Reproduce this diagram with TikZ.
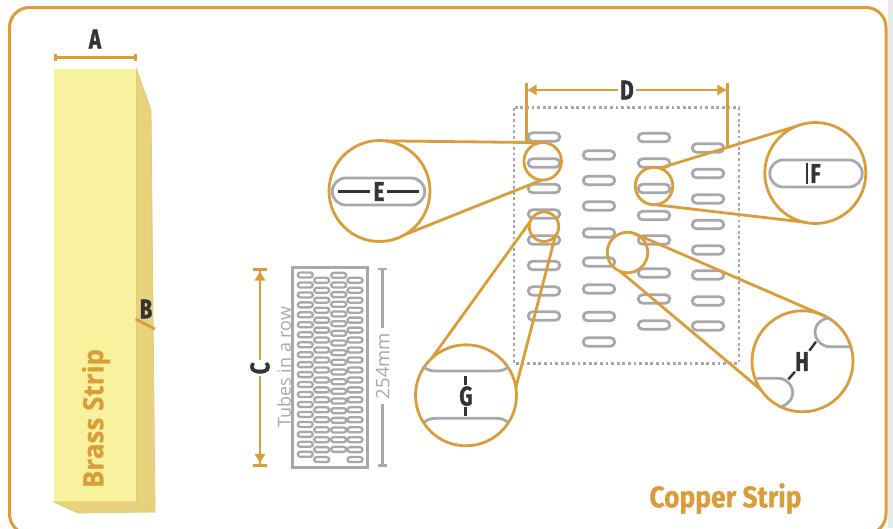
\documentclass[tikz,border=0pt]{standalone}
\usepackage{fontspec}
\usetikzlibrary{shapes.misc,arrows.meta}
\newfontfamily\dimfont[FakeStretch=0.76,FakeBold=1.2]{Fira Sans}
\newfontfamily\titlefont[FakeStretch=0.88,FakeBold=0.6]{Fira Sans}
\newfontfamily\stripfont[FakeStretch=0.93,FakeBold=0.4]{Open Sans}
\newfontfamily\brassfont{Open Sans}
\definecolor{strand}{HTML}{DB9C3A}
\definecolor{slotgray}{HTML}{A8A8AC}
\definecolor{inkdark}{HTML}{333338}
\definecolor{brassfront}{HTML}{F8F29E}
\definecolor{brassside}{HTML}{E8D27C}
\definecolor{brassseam}{HTML}{E0CB78}
\tikzset{
  slot/.style={rounded rectangle,draw=slotgray,line width=2.8pt,minimum width=31.5pt,minimum height=8.5pt,inner sep=0pt,outer sep=0pt},
  tinyslot/.style={rounded rectangle,draw=slotgray,line width=2.3pt,minimum width=15pt,minimum height=5pt,inner sep=0pt,outer sep=0pt},
  bigslot/.style={rounded rectangle,draw=slotgray,line width=2.8pt,minimum width=92.5pt,minimum height=27pt,inner sep=0pt,outer sep=0pt},
  spot/.style={circle,draw=strand,line width=2.8pt,inner sep=0pt,outer sep=0pt},
  lens/.style={circle,draw=strand,line width=2.8pt,fill=white,minimum size=101pt,inner sep=0pt,outer sep=0pt},
  letter/.style={font=\dimfont\bfseries\fontsize{27}{27}\selectfont,text=inkdark,inner sep=1pt},
  wire/.style={draw=strand,line width=2.8pt},
  inkmark/.style={draw=inkdark,line width=2.4pt},
  greyline/.style={draw=slotgray,line width=2.6pt}
}
\begin{document}
\begin{tikzpicture}[x=1pt,y=-1pt]
\useasboundingbox (0,0) rectangle (893,528);

% to draw outer frame
\fill [black!9] (888,0) rectangle (893,528);
\draw [strand,line width=3pt,rounded corners=20pt] (9.5,7.5) rectangle (886,534);

% to draw brass strip
\fill [brassfront] (54,69) rectangle (136.5,502);
\filldraw [fill=brassside,draw=brassseam,line width=0.8pt] (136.5,69) -- (151,110) -- (155,512) -- (136.5,502) -- cycle;
\filldraw [fill=brassside,draw=brassseam,line width=0.8pt] (54,502) -- (78,513) -- (155,512) -- (136.5,502) -- cycle;
\node [rotate=90,text=strand,font=\stripfont\bfseries\fontsize{28}{28}\selectfont] (brasstext) at (96,418.5) {Brass Strip};

% to write A and B
\coordinate (dimAl) at (54,57.5);
\coordinate (dimAr) at (136.5,57.5);
\draw [wire,{Bar[width=7pt]}-{Bar[width=7pt]}] (dimAl) -- (dimAr);
\node [letter] (letterA) at (95,39) {A};
\coordinate (dimBl) at (135.5,319);
\coordinate (dimBr) at (155,329);
\draw [wire] (dimBl) -- (dimBr);
\node [letter] (letterB) at (146,309) {B};

% to draw small plate
\draw [slotgray,line width=3pt] (292.5,267.5) rectangle (367.5,467);
\foreach \i in {0,...,18}{
  \node [tinyslot] (tinyA\i) at (305.3,275+9.96*\i) {};
  \node [tinyslot] (tinyB\i) at (321.7,280.3+9.96*\i) {};
  \node [tinyslot] (tinyD\i) at (355,280.3+9.96*\i) {};
}
\foreach \i in {0,...,18}{
  \node [tinyslot] (tinyC\i) at (338.7,275.3+9.67*\i) {};
}

% to write C and texts of small plate
\coordinate (dimCt) at (260,267.7);
\coordinate (dimCb) at (260,466.7);
\draw [wire,{Bar[width=14pt]Latex[length=10pt,width=12pt]}-{Latex[length=10pt,width=12pt]Bar[width=14pt]}] (dimCt) -- (dimCb)
  node [letter,pos=0.505,rotate=90,fill=white,inner sep=2pt] (letterC) {C};
\node [rotate=90,text=slotgray,font=\brassfont\fontsize{18}{18}\selectfont] (tubestext) at (284,367) {Tubes in a row};
\coordinate (dimMt) at (382.7,267.7);
\coordinate (dimMb) at (382.7,466.7);
\draw [greyline,{Bar[width=9pt]}-{Bar[width=9pt]}] (dimMt) -- (dimMb)
  node [pos=0.494,rotate=90,fill=white,inner sep=5pt,text=slotgray,font=\brassfont\fontsize{18.5}{18.5}\selectfont] (mmtext) {254mm};

% to draw dotted panel
\draw [slotgray,line width=2.8pt,dash pattern=on 2.8pt off 2.8pt] (514,107.7) rectangle (739,363.3);

% to draw big slots
\foreach \yy [count=\n] in {137,163,188.5,214,240,265.5,291,316}
  \node [slot] (slotA\n) at (544,\yy) {};
\foreach \yy [count=\n] in {155,180.5,206,233,262,289,316.5,342}
  \node [slot] (slotB\n) at (599,\yy) {};
\foreach \yy [count=\n] in {137.5,163,188.5,215.5,240,273,299,325}
  \node [slot] (slotC\n) at (654,\yy) {};
\foreach \yy [count=\n] in {148,173.5,199,224.5,250,275,301,326}
  \node [slot] (slotD\n) at (708,\yy) {};

% to draw D
\coordinate (dimDl) at (526.7,90);
\coordinate (dimDr) at (727.3,90);
\coordinate (dimDlt) at (526.7,83.3);
\coordinate (dimDrt) at (727.3,83.3);
\coordinate (dimDlb) at (526.7,142.5);
\coordinate (dimDrb) at (727.3,146.5);
\draw [wire] (dimDlt) -- (dimDlb);
\draw [wire] (dimDrt) -- (dimDrb);
\draw [wire,{Latex[length=10pt,width=12pt]}-{Latex[length=10pt,width=12pt]}] (dimDl) -- (dimDr)
  node [letter,midway,fill=white,inner sep=2.5pt] (letterD) {D};

% to draw spots
\node [spot,minimum size=37.5pt] (spotE) at (542.7,161.3) {};
\node [spot,minimum size=29.5pt] (spotG) at (544,226.7) {};
\node [spot,minimum size=37.5pt] (spotF) at (654,186) {};
\node [spot,minimum size=40.5pt] (spotH) at (627.5,252.5) {};

% to draw lenses
\node [lens] (lensE) at (379.5,191) {};
\node [lens] (lensF) at (815.3,173) {};
\node [lens] (lensG) at (466,395.3) {};
\node [lens] (lensH) at (802.5,361.3) {};

% to draw lines from spot to lens
\draw [wire] (lensE.83) -- (spotE.95);
\draw [wire] (lensE.-60) -- (spotE.-93);
\draw [wire] (lensF.112) -- (spotF.72);
\draw [wire] (lensF.-104) -- (spotF.-87);
\draw [wire] (lensG.133) -- (spotG.160);
\draw [wire] (lensG.9) -- (spotG.-40);
\draw [wire] (lensH.62) -- (spotH.73);
\draw [wire] (lensH.214) -- (spotH.-111);

% E
\node [bigslot] (bigE) at (378.5,191.5) {};
\node [letter] (letterE) at (379,191.5) {E};
\coordinate (markEa) at (338,191.5);
\coordinate (markEb) at (370,191.5);
\coordinate (markEc) at (387,191.5);
\coordinate (markEd) at (419,191.5);
\draw [inkmark] (markEa) -- (markEb);
\draw [inkmark] (markEc) -- (markEd);

% F
\node [bigslot] (bigF) at (816,173.5) {};
\node [letter] (letterF) at (815.5,173.5) {F};
\coordinate (markFa) at (806.7,162.7);
\coordinate (markFb) at (806.7,184.3);
\draw [inkmark] (markFa) -- (markFb);

% G
\draw [slotgray,line width=2.8pt] (423,366.5) .. controls (427,370) and (431,371) .. (436,371) -- (496,371) .. controls (501,371) and (505,370) .. (508.5,366.5);
\draw [slotgray,line width=2.8pt] (423,423) .. controls (427,419.5) and (431,418.3) .. (436,418.3) -- (496,418.3) .. controls (501,418.3) and (505,419.5) .. (509,423);
\node [letter] (letterG) at (466,396) {G};
\coordinate (markGa) at (465.3,375.7);
\coordinate (markGb) at (465.3,385);
\coordinate (markGc) at (465.3,406.7);
\coordinate (markGd) at (465.3,415.5);
\draw [inkmark] (markGa) -- (markGb);
\draw [inkmark] (markGc) -- (markGd);

% H
\draw [slotgray,line width=2.8pt] (828,318) .. controls (820,319.5) and (815,325) .. (815,332) .. controls (815,340) and (822,346.7) .. (830,346.7) -- (850,346.7);
\draw [slotgray,line width=2.8pt] (756.7,378.3) -- (778,378.3) .. controls (786,378.3) and (792.7,385) .. (792.7,393) .. controls (792.7,399) and (788,404) .. (781.7,406.7);
\node [letter] (letterH) at (802,361.5) {H};
\coordinate (markHa) at (788.3,379.3);
\coordinate (markHb) at (795,371.7);
\coordinate (markHc) at (809.3,350.7);
\coordinate (markHd) at (816,341.7);
\draw [inkmark] (markHa) -- (markHb);
\draw [inkmark] (markHc) -- (markHd);

% to write title
\node [text=strand,font=\titlefont\bfseries\fontsize{30}{30}\selectfont] (coppertext) at (725.5,498.5) {Copper Strip};
\end{tikzpicture}
\end{document}
